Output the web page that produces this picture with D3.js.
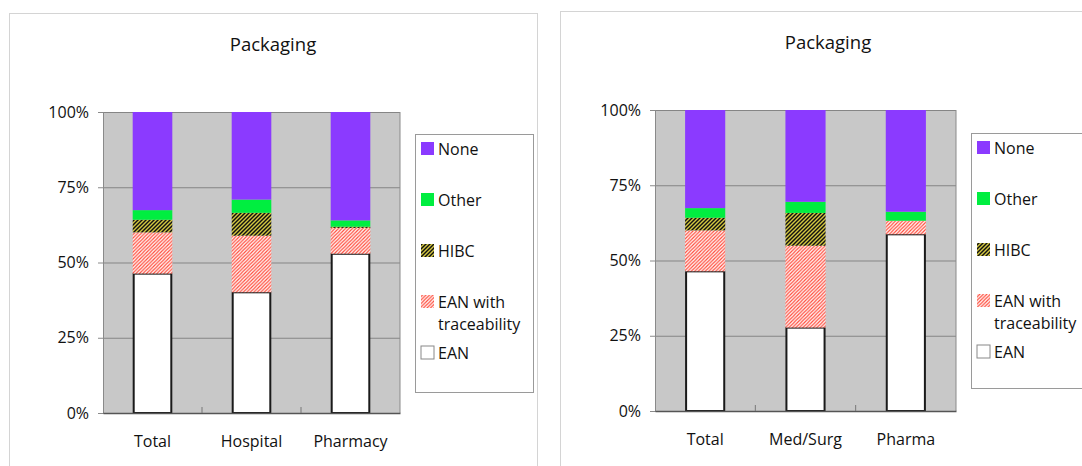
<!DOCTYPE html>
<html>
<head>
<meta charset="utf-8">
<script src="https://cdn.jsdelivr.net/npm/d3@7"></script>
<style>
  html, body { margin: 0; padding: 0; background: #ffffff; }
  svg { display: block; }
  text { font-family: "Open Sans", "Noto Sans", sans-serif; fill: #111; }
</style>
</head>
<body>
<svg id="chart" width="1082" height="466"></svg>
<script>
// ---------- data ----------
const seriesNames = ["EAN", "EAN with traceability", "HIBC", "Other", "None"];
const legendLabels = ["None", "Other", "HIBC", "EAN with|traceability", "EAN"];
const tickValues = [0, 25, 50, 75, 100];
const tickLabels = ["0%", "25%", "50%", "75%", "100%"];

const titleLeft = "Packaging";
const categoriesLeft = ["Total", "Hospital", "Pharmacy"];
const eanLeft   = [46.3, 40.1, 52.9];
const traceLeft = [13.7, 18.8, 8.6];
const hibcLeft  = [4.2, 7.6, 0.4];
const otherLeft = [3.2, 4.4, 2.1];
const noneLeft  = [32.6, 29.1, 36.0];

const titleRight = "Packaging";
const categoriesRight = ["Total", "Med/Surg", "Pharma"];
const eanRight   = [46.4, 27.7, 58.7];
const traceRight = [13.6, 27.2, 4.5];
const hibcRight  = [4.2, 10.9, 0.0];
const otherRight = [3.2, 3.7, 3.0];
const noneRight  = [32.6, 30.5, 33.8];

// ---------- styles ----------
const fills = {
  "EAN": "#ffffff",
  "EAN with traceability": "url(#patTrace)",
  "HIBC": "url(#patHibc)",
  "Other": "#00ee40",
  "None": "#8b3aff"
};

const svg = d3.select("#chart");
const defs = svg.append("defs");

// red diagonal hatch on white
const pT = defs.append("pattern").attr("id", "patTrace")
  .attr("patternUnits", "userSpaceOnUse").attr("width", 3.5).attr("height", 3.5);
pT.append("rect").attr("width", 3.5).attr("height", 3.5).attr("fill", "#ffffff");
pT.append("path").attr("d", "M-1,1 l2,-2 M0,3.5 l3.5,-3.5 M2.5,4.5 l2,-2")
  .attr("stroke", "#ff4a3a").attr("stroke-width", 1.2);

// yellow diagonal hatch on black
const pH = defs.append("pattern").attr("id", "patHibc")
  .attr("patternUnits", "userSpaceOnUse").attr("width", 4).attr("height", 4);
pH.append("rect").attr("width", 4).attr("height", 4).attr("fill", "#111111");
pH.append("path").attr("d", "M-1,1 l2,-2 M0,4 l4,-4 M3,5 l2,-2")
  .attr("stroke", "#d4c840").attr("stroke-width", 1.4);

function drawPanel(cfg) {
  const g = svg.append("g");

  // panel frame
  g.append("rect")
    .attr("x", cfg.frame[0] + 0.5).attr("y", cfg.frame[1] + 0.5)
    .attr("width", cfg.frame[2]).attr("height", cfg.frame[3])
    .attr("fill", "#ffffff").attr("stroke", "#d4d4d4").attr("stroke-width", 1);

  // title
  g.append("text")
    .attr("x", cfg.titleX).attr("y", cfg.titleY)
    .attr("text-anchor", "middle")
    .style("font-size", "18.5px")
    .text(cfg.title);

  const x = d3.scaleBand().domain(cfg.categories)
    .range([cfg.plot.left, cfg.plot.right])
    .paddingInner(0.6).paddingOuter(0.3);
  const y = d3.scaleLinear().domain([0, 100])
    .range([cfg.plot.bottom, cfg.plot.top]);

  // plot background
  g.append("rect")
    .attr("x", cfg.plot.left).attr("y", cfg.plot.top)
    .attr("width", cfg.plot.right - cfg.plot.left)
    .attr("height", cfg.plot.bottom - cfg.plot.top)
    .attr("fill", "#c8c8c8");

  // gridlines
  const grid = g.append("g")
    .attr("transform", `translate(${cfg.plot.left},0)`)
    .call(d3.axisLeft(y).tickValues(tickValues)
      .tickSize(-(cfg.plot.right - cfg.plot.left)).tickFormat(""));
  grid.select(".domain").remove();
  grid.selectAll("line").attr("stroke", "#858585").attr("stroke-width", 1);

  // right border of plot
  g.append("line")
    .attr("x1", cfg.plot.right).attr("x2", cfg.plot.right)
    .attr("y1", cfg.plot.top).attr("y2", cfg.plot.bottom)
    .attr("stroke", "#8a8a8a");

  // stacked bars
  const rows = cfg.categories.map((c, i) => {
    const o = { cat: c };
    seriesNames.forEach((s, k) => { o[s] = cfg.values[k][i]; });
    return o;
  });
  const stacked = d3.stack().keys(seriesNames)(rows);

  stacked.forEach(layer => {
    const key = layer.key;
    g.append("g").selectAll("rect").data(layer).join("rect")
      .attr("x", d => x(d.data.cat) + (key === "EAN" ? 1 : 0))
      .attr("width", x.bandwidth() - (key === "EAN" ? 2 : 0))
      .attr("y", d => y(d[1]))
      .attr("height", d => Math.max(0, y(d[0]) - y(d[1])))
      .attr("fill", fills[key])
      .attr("stroke", key === "EAN" ? "#1a1a1a" : "none")
      .attr("stroke-width", key === "EAN" ? 2 : 0);
  });

  // y axis
  const yAx = g.append("g")
    .attr("transform", `translate(${cfg.plot.left},0)`)
    .call(d3.axisLeft(y).tickValues(tickValues).tickSize(5).tickPadding(9)
      .tickFormat((d, i) => tickLabels[tickValues.indexOf(d)]));
  yAx.select(".domain").attr("stroke", "#8a8a8a");
  yAx.selectAll("line").attr("stroke", "#8a8a8a");
  yAx.selectAll("text").style("font-size", "16px")
    .attr("fill", "#111").attr("font-family", null);

  // x axis
  const xAx = g.append("g")
    .attr("transform", `translate(0,${cfg.plot.bottom})`)
    .call(d3.axisBottom(x).tickSize(0).tickPadding(23));
  xAx.select(".domain").attr("stroke", "#555").attr("stroke-width", 1.5);
  xAx.selectAll("text").style("font-size", "16px").attr("fill", "#111");

  // category boundary ticks (inside)
  const step = x.step();
  const bounds = cfg.categories.slice(1).map(c => x(c) - (step - x.bandwidth()) / 2);
  g.append("g").selectAll("line").data(bounds).join("line")
    .attr("x1", d => d).attr("x2", d => d)
    .attr("y1", cfg.plot.bottom).attr("y2", cfg.plot.bottom - 6)
    .attr("stroke", "#777");

  // legend
  const L = cfg.legend;
  g.append("rect")
    .attr("x", L.x + 0.5).attr("y", L.y + 0.5)
    .attr("width", L.w).attr("height", L.h)
    .attr("fill", "#ffffff").attr("stroke", "#9a9a9a");
  const legendKeys = ["None", "Other", "HIBC", "EAN with traceability", "EAN"];
  legendKeys.forEach((k, i) => {
    const yy = L.y + 8 + i * 51;
    g.append("rect")
      .attr("x", L.x + 6).attr("y", yy)
      .attr("width", 13).attr("height", 13)
      .attr("fill", fills[k])
      .attr("stroke", k === "EAN" ? "#888" : "none");
    const lines = legendLabels[i].split("|");
    const t = g.append("text")
      .attr("x", L.x + 23).attr("y", yy + 13)
      .style("font-size", "16px");
    lines.forEach((ln, j) => {
      t.append("tspan").attr("x", L.x + 23).attr("dy", j === 0 ? 0 : 22).text(ln);
    });
  });
}

drawPanel({
  frame: [9, 13, 528, 470],
  title: titleLeft, titleX: 273, titleY: 51,
  categories: categoriesLeft,
  values: [eanLeft, traceLeft, hibcLeft, otherLeft, noneLeft],
  plot: { left: 103, right: 400, top: 112, bottom: 413 },
  legend: { x: 415, y: 134, w: 118, h: 258 }
});

drawPanel({
  frame: [560, 11, 560, 470],
  title: titleRight, titleX: 828, titleY: 49,
  categories: categoriesRight,
  values: [eanRight, traceRight, hibcRight, otherRight, noneRight],
  plot: { left: 655, right: 956, top: 110, bottom: 411 },
  legend: { x: 971, y: 133, w: 130, h: 255 }
});
</script>
</body>
</html>
